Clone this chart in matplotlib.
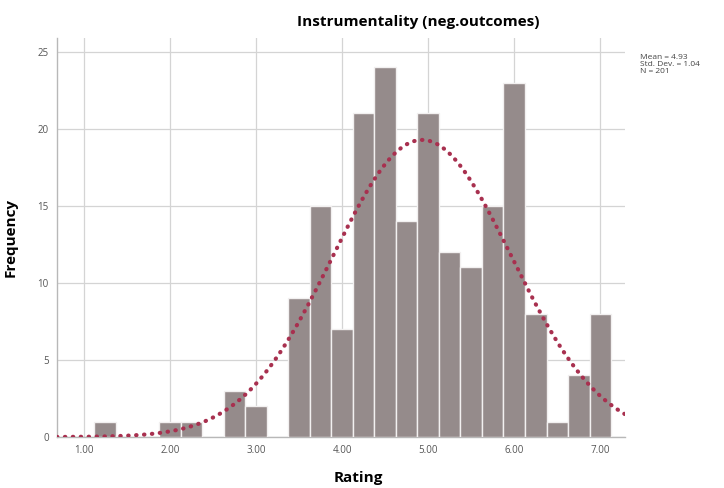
import numpy as np
import matplotlib.pyplot as plt

# Histogram of ratings (bin centres, width 0.25)
bin_centers = [1.25, 2.00, 2.25, 2.75, 3.00, 3.50, 3.75, 4.00, 4.25, 4.50,
               4.75, 5.00, 5.25, 5.50, 5.75, 6.00, 6.25, 6.50, 6.75, 7.00]
counts = [1, 1, 1, 3, 2, 9, 15, 7, 21, 24, 14, 21, 12, 11, 15, 23, 8, 1, 4, 8]
bin_width = 0.25

mean_val = 4.93
sd_val = 1.04
n_val = 201

plt.rcParams['font.family'] = ['Open Sans', 'DejaVu Sans']

fig = plt.figure(figsize=(7.24, 4.88), dpi=100)
ax = fig.add_axes([0.0787, 0.1045, 0.785, 0.818])

ax.bar(bin_centers, counts, width=bin_width, color='#958b8b',
       edgecolor='#f2f0f0', linewidth=1.0, zorder=3)

# normal curve from the stated mean / sd / N
xs = np.linspace(0.69, 7.29, 200)
ys = n_val * bin_width / (sd_val * np.sqrt(2 * np.pi)) * np.exp(-0.5 * ((xs - mean_val) / sd_val) ** 2)
ax.plot(xs, ys, linestyle=(0, (0.1, 1.8)), color='#a8304f', linewidth=3.0,
        dash_capstyle='round', zorder=5)

ax.set_xlim(0.69, 7.29)
ax.set_ylim(0, 25.9)
ax.set_xticks([1, 2, 3, 4, 5, 6, 7])
ax.set_xticklabels(['1.00', '2.00', '3.00', '4.00', '5.00', '6.00', '7.00'])
ax.set_yticks([0, 5, 10, 15, 20, 25])
ax.tick_params(axis='both', length=0, labelsize=7, colors='#555555', pad=6)
ax.grid(True, color='#d4d4d4', linewidth=0.9, zorder=0)

for s in ['top', 'right']:
    ax.spines[s].set_visible(False)
for s in ['left', 'bottom']:
    ax.spines[s].set_color('#b8b8b8')
    ax.spines[s].set_linewidth(1.0)

ax.set_xlabel('Rating', fontsize=11, fontweight='bold')
ax.xaxis.set_label_coords(0.53, -0.085)
ax.set_ylabel('Frequency', fontsize=11, fontweight='bold', labelpad=14)

fig.text(0.578, 0.955, 'Instrumentality (neg.outcomes)', fontsize=11,
         fontweight='bold', ha='center', va='center')
fig.text(0.884, 0.89, f'Mean = {mean_val:.2f}\nStd. Dev. = {sd_val:.2f}\nN = {n_val}',
         fontsize=6, color='#444444', ha='left', va='top', linespacing=1.0)

fig.savefig('out.png', dpi=100)
